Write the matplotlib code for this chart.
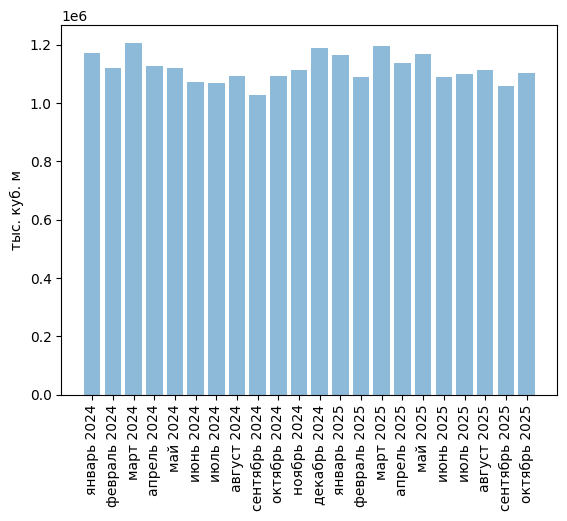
import matplotlib
matplotlib.use('Agg')
import matplotlib.pyplot as plt

months = ['январь 2024', 'февраль 2024', 'март 2024', 'апрель 2024', 'май 2024',
          'июнь 2024', 'июль 2024', 'август 2024', 'сентябрь 2024', 'октябрь 2024',
          'ноябрь 2024', 'декабрь 2024', 'январь 2025', 'февраль 2025', 'март 2025',
          'апрель 2025', 'май 2025', 'июнь 2025', 'июль 2025', 'август 2025',
          'сентябрь 2025', 'октябрь 2025']
volumes = [1172000, 1121000, 1207000, 1128000, 1121000, 1073000, 1070000, 1094000,
           1028000, 1094000, 1114000, 1190000, 1166000, 1090000, 1196000, 1138000,
           1169000, 1090000, 1100000, 1114000, 1059000, 1104000]

fig, ax = plt.subplots(figsize=(6.4, 4.8))
ax.bar(months, volumes, alpha=0.5)
ax.set_ylabel('тыс. куб. м')
plt.xticks(rotation=90)
plt.savefig('out.png', dpi=100, bbox_inches='tight')
